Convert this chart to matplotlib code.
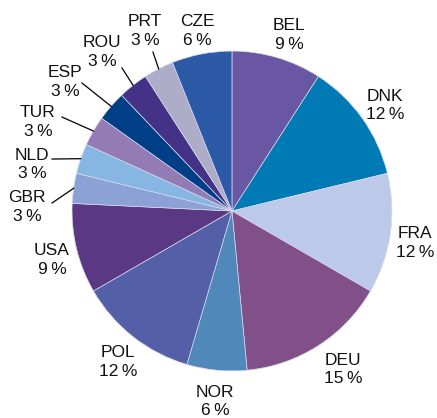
import numpy as np
import matplotlib
matplotlib.use("Agg")
import matplotlib.pyplot as plt

# country shares (percent), clockwise from 12 o'clock
countries = ["BEL", "DNK", "FRA", "DEU", "NOR", "POL", "USA",
             "GBR", "NLD", "TUR", "ESP", "ROU", "PRT", "CZE"]
shares = [9, 12, 12, 15, 6, 12, 9, 3, 3, 3, 3, 3, 3, 6]
colors = ["#6957a3", "#007ab5", "#bcc9e9", "#825088", "#4f88b9", "#535fa7",
          "#5b3884", "#8ca1d5", "#86b7e3", "#937bb5", "#003f87", "#443286",
          "#adadca", "#2c5aa7"]

# label centres in pie units (radius = 1)
label_xy = {
    "BEL": (0.356, 1.10), "DNK": (0.956, 0.66), "FRA": (1.144, -0.20),
    "DEU": (0.694, -0.99), "NOR": (-0.106, -1.19), "POL": (-0.713, -0.944),
    "USA": (-1.125, -0.306), "GBR": (-1.281, 0.025), "NLD": (-1.25, 0.29),
    "TUR": (-1.213, 0.556), "ESP": (-1.044, 0.806), "ROU": (-0.813, 0.994),
    "PRT": (-0.544, 1.125), "CZE": (-0.219, 1.125),
}
# start of leader line (text side) for the thin slices
leader_start = {
    "GBR": (-1.125, 0.05), "NLD": (-1.125, 0.325), "TUR": (-1.0625, 0.5875),
    "ESP": (-0.9375, 0.80), "ROU": (-0.6875, 0.894), "PRT": (-0.494, 0.994),
}

plt.rcParams["font.family"] = ["Liberation Sans", "DejaVu Sans"]

fig = plt.figure(figsize=(4.37, 4.18), dpi=100)
ax = fig.add_axes([0.1648, 0.1124, 0.732, 0.7656])

wedges, _ = ax.pie(shares, colors=colors, startangle=90, counterclock=False,
                   radius=1.0,
                   wedgeprops=dict(edgecolor="#d8d8ee", linewidth=0.5))
ax.set_xlim(-1, 1)
ax.set_ylim(-1, 1)
ax.set_aspect("equal")
ax.axis("off")

for w, name, val in zip(wedges, countries, shares):
    tx, ty = label_xy[name]
    ax.text(tx, ty, f"{name}\n{val}\u2009%", ha="center", va="center",
            fontsize=12.5, linespacing=1.3, color="#111111", clip_on=False)
    if name in leader_start:
        mid = np.deg2rad((w.theta1 + w.theta2) / 2)
        ex, ey = np.cos(mid), np.sin(mid)
        sx, sy = leader_start[name]
        ax.plot([sx, ex], [sy, ey], color="black", lw=0.9, clip_on=False)

fig.savefig("out.png", dpi=100)
